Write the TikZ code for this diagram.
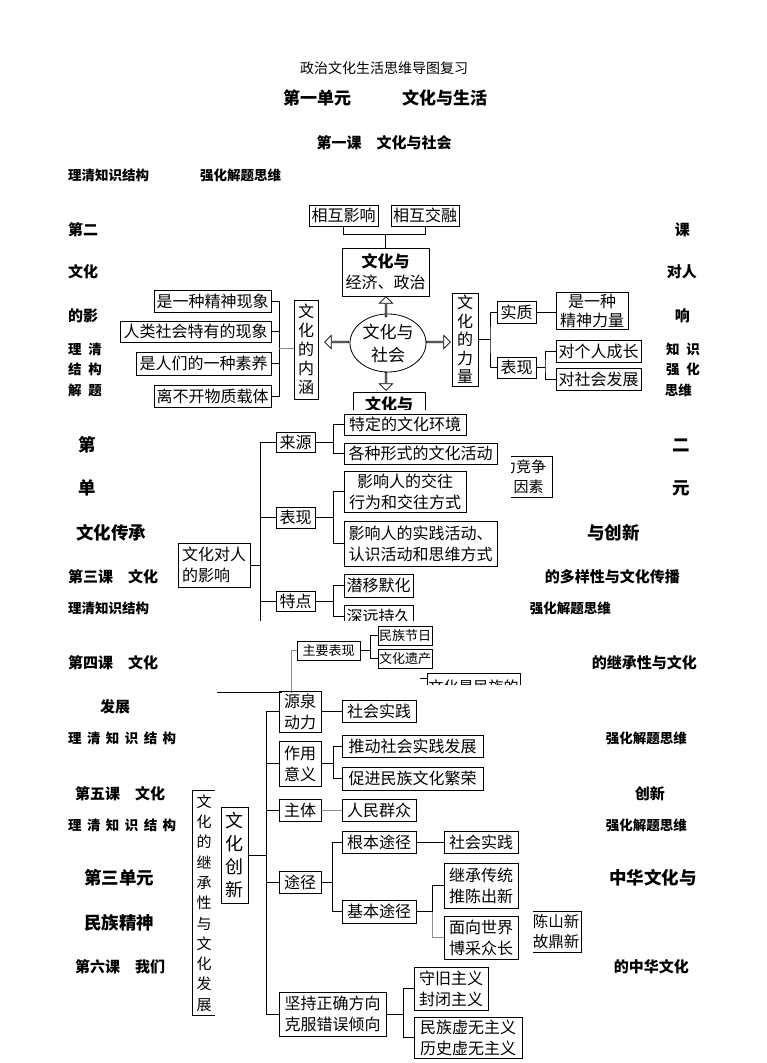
\documentclass[tikz,border=0pt]{standalone}
\usepackage{fontspec}
\setmainfont{Noto Sans CJK SC}
\usetikzlibrary{shapes.geometric,shapes.arrows}
\newcommand\MyBox[7][]{\node[box,minimum width={(#5-#3)*1pt},minimum height={(#6-#4)*1pt},#1] (#2) at ({(#3+#5)/2},{(#4+#6)/2}) {#7};}
\begin{document}
\begin{tikzpicture}[x=1pt,y=-1pt,
  box/.style={draw,line width=0.8pt,inner sep=0pt,align=center,font=\fontsize{16}{20}\selectfont},
  two/.style={font=\fontsize{16}{21}\selectfont},
  sbox/.style={font=\fontsize{13}{15}\selectfont},
  vtext/.style={font=\fontsize{16}{19}\selectfont},
  conn/.style={line width=0.8pt},
  gconn/.style={line width=0.8pt,black!45},
  harrow/.style={single arrow,draw,fill=white,line width=0.7pt,inner sep=0pt,minimum width=13pt,single arrow head extend=3pt},
  lab/.style={font=\bfseries\fontsize{15}{17}\selectfont,inner sep=0pt,anchor=west},
  labr/.style={lab,anchor=east},
  small/.style={font=\bfseries\fontsize{13.5}{15}\selectfont,inner sep=0pt,anchor=west},
  smallr/.style={small,anchor=east},
  heavy/.style={font=\bfseries\fontsize{17.5}{19}\selectfont,inner sep=0pt,anchor=west},
  heavyr/.style={heavy,anchor=east}]
\useasboundingbox (0,0) rectangle (767,1063);
\fill[white] (0,0) rectangle (767,1063);

% ---------- headings ----------
\node[font=\fontsize{14}{16}\selectfont,inner sep=0pt] (title) at (384,68) {政治文化生活思维导图复习};
\node[font=\bfseries\fontsize{17}{19}\selectfont,inner sep=0pt] (unit1) at (385,98) {第一单元\hspace{3em}文化与生活};
\node[font=\bfseries\fontsize{15}{17}\selectfont,inner sep=0pt] (les1) at (384,143) {第一课\quad 文化与社会};
\node[small] (l1a) at (68,175) {理清知识结构};
\node[small] (l1b) at (200,175) {强化解题思维};

\node[lab] (p1) at (68,230) {第二};   \node[labr] (q1) at (690,230) {课};
\node[lab] (p2) at (68,272) {文化};   \node[labr] (q2) at (697,272) {对人};
\node[lab] (p3) at (68,316) {的影};   \node[labr] (q3) at (690,316) {响};
\node[small] (p4) at (68,349) {理\hspace{.5em}清}; \node[smallr] (q4) at (700,349) {知\hspace{.5em}识};
\node[small] (p5) at (68,369) {结\hspace{.5em}构}; \node[smallr] (q5) at (700,369) {强\hspace{.5em}化};
\node[small] (p6) at (68,390) {解\hspace{.5em}题}; \node[smallr] (q6) at (692,390) {思维};

\node[heavy] (p7) at (78,445) {第};  \node[heavyr] (q7) at (690,445) {二};
\node[heavy] (p8) at (78,488) {单};  \node[heavyr] (q8) at (690,488) {元};
\node[heavy] (p9) at (76,533) {文化传承}; \node[heavyr] (q9) at (640,533) {与创新};
\node[lab] (p10) at (68,577) {第三课\quad 文化}; \node[labr] (q10) at (680,577) {的多样性与文化传播};
\node[small] (p11) at (68,608) {理清知识结构}; \node[smallr] (q11) at (611,608) {强化解题思维};

\node[lab] (p12) at (68,663) {第四课\quad 文化}; \node[labr] (q12) at (697,663) {的继承性与文化};
\node[lab] (p13) at (100,707) {发展};
\node[small] (p14) at (68,738) {理\hspace{.4em}清\hspace{.4em}知\hspace{.4em}识\hspace{.4em}结\hspace{.4em}构}; \node[smallr] (q14) at (687,738) {强化解题思维};

\node[lab] (p15) at (75,794) {第五课\quad 文化}; \node[labr] (q15) at (665,794) {创新};
\node[small] (p16) at (68,825) {理\hspace{.4em}清\hspace{.4em}知\hspace{.4em}识\hspace{.4em}结\hspace{.4em}构}; \node[smallr] (q16) at (687,825) {强化解题思维};
\node[heavy] (p17) at (84,878) {第三单元}; \node[heavyr] (q17) at (697,878) {中华文化与};
\node[heavy] (p18) at (84,923) {民族精神};
\node[lab] (p19) at (75,967) {第六课\quad 我们}; \node[labr] (q19) at (689,967) {的中华文化};

% ---------- diagram 1 ----------
\begin{scope}
\clip (0,190) rectangle (767,409);
\MyBox{hxyx}{309}{205}{378}{226}{相互影响}
\MyBox{hxjr}{391}{205}{459}{226}{相互交融}
\MyBox[two]{wjz}{342}{248}{429}{296}{\textbf{文化与}\\经济、政治}
\draw[conn] (hxyx.south) -- ++(0,8) -| (hxjr.south);
\draw[conn] (wjz.north) -- ++(0,-14);
\node[ellipse,draw,line width=0.8pt,minimum width=76pt,minimum height=58pt,inner sep=0pt,align=center,font=\fontsize{17}{23}\selectfont] (soc) at (388,343) {文化与\\社会};
\node[harrow,rotate=90,minimum height=20pt] (au) at (386,307) {};
\node[harrow,rotate=180,minimum height=24pt] (al) at (337,342) {};
\node[harrow,minimum height=24pt] (ar) at (438,342) {};
\node[harrow,rotate=-90,minimum height=18pt] (ad) at (386,381) {};
\MyBox[vtext]{nh}{294}{300}{318}{399}{文\\化\\的\\内\\涵}
\MyBox{n1}{154}{290}{271}{312}{是一种精神现象}
\MyBox{n2}{120}{321}{271}{342}{人类社会特有的现象}
\MyBox{n3}{136}{352}{271}{375}{是人们的一种素养}
\MyBox{n4}{154}{385}{271}{407}{离不开物质载体}
\coordinate (bL) at (279,348);
\draw[conn] (n1.east) -| (bL);
\draw[conn] (n4.east) -| (bL);
\draw[conn] (n2.east) -- (n2.east -| bL);
\draw[conn] (n3.east) -- (n3.east -| bL);
\draw[gconn] (bL) -- (bL -| nh.west);
\MyBox[font=\fontsize{16}{18.5}\selectfont]{ll}{452}{293}{478}{386}{文\\化\\的\\力\\量}
\MyBox{sz}{497}{301}{536}{323}{实质}
\MyBox{bx1}{497}{357}{536}{378}{表现}
\MyBox[font=\fontsize{16}{19}\selectfont]{jsl}{556}{292}{628}{329}{是一种\\精神力量}
\MyBox{gr}{556}{340}{641}{362}{对个人成长}
\MyBox{shf}{556}{368}{641}{390}{对社会发展}
\coordinate (bR) at (490,340);
\draw[conn] (ll.east) -- (ll.east -| bR);
\draw[conn] (sz.west) -| (bR) |- (bx1.west);
\draw[conn] (sz.east) -- (sz.east -| jsl.west);
\coordinate (bR2) at (545,366);
\draw[conn] (bx1.east) -- (bx1.east -| bR2);
\draw[conn] (gr.west) -| (bR2) |- (shf.west);
\MyBox{wy}{353}{392}{425}{440}{}
\node[font=\bfseries\fontsize{16}{18}\selectfont,inner sep=0pt] (wyt) at (389,404) {文化与};
\end{scope}

% partial box behind diagram 2
\begin{scope}
\clip (511,450) rectangle (600,505);
\MyBox[align=right,font=\fontsize{15}{20}\selectfont]{jz}{495}{456}{552}{497}{力竞争\\因素\,}
\end{scope}

% ---------- diagram 2 ----------
\begin{scope}
\clip (0,409) rectangle (767,620);
\MyBox[align=left,two]{root}{178}{543}{250}{587}{文化对人\\的影响}
\MyBox{src}{276}{432}{315}{452}{来源}
\MyBox{exp}{276}{507}{315}{528}{表现}
\MyBox{fea}{276}{591}{315}{611}{特点}
\MyBox{a1}{344}{414}{466}{435}{特定的文化环境}
\MyBox{a2}{344}{443}{497}{464}{各种形式的文化活动}
\MyBox[two]{b1}{344}{471}{466}{512}{影响人的交往\\行为和交往方式}
\MyBox[two]{b2}{344}{521}{497}{566}{影响人的实践活动、\\认识活动和思维方式}
\MyBox{c1}{344}{574}{413}{597}{潜移默化}
\MyBox{c2}{344}{605}{413}{628}{深远持久}
\coordinate (t2a) at (260,442);
\coordinate (t2b) at (260,640);
\draw[conn] (t2a) -- (t2b);
\draw[conn] (t2a) -- (src.west);
\draw[conn] (exp.west) -- (exp.west -| t2a);
\draw[conn] (fea.west) -- (fea.west -| t2a);
\draw[conn] (root.east) -- (root.east -| t2a);
\draw[conn] (src.east) -- ++(18,0) coordinate (k1);
\draw[conn] (a1.west) -| (k1) |- (a2.west);
\draw[conn] (exp.east) -- ++(18,0) coordinate (k2);
\draw[conn] (b1.west) -| (k2) |- (b2.west);
\draw[conn] (fea.east) -- ++(18,0) coordinate (k3);
\draw[conn] (c1.west) -| (k3) |- (c2.west);
\end{scope}

% ---------- fragment 3 ----------
\MyBox[sbox]{zybx}{297}{641}{360}{660}{主要表现}
\MyBox[sbox]{mzjr}{378}{626}{432}{645}{民族节日}
\MyBox[sbox]{whyc}{378}{649}{432}{668}{文化遗产}
\draw[conn] (zybx.east) -- ++(10,0) coordinate (k7);
\draw[conn] (mzjr.west) -| (k7) |- (whyc.west);
\coordinate (v3) at (291,693);
\draw[gconn] (zybx.west) -| (v3);
\coordinate (h1) at (217,692);
\coordinate (h2) at (282,692);
\draw[conn] (h1) -- (h2);
\begin{scope}
\clip (0,620) rectangle (767,684);
\MyBox[font=\fontsize{15}{17}\selectfont]{whmz}{427}{673}{520}{700}{文化是民族的}
\draw[conn] (whmz.north west) ++(0,6) -- ++(-7,0);
\end{scope}

% ---------- diagram 4 ----------
\node[inner sep=0pt,minimum width=22pt,minimum height=224pt,align=center,font=\fontsize{15}{20.3}\selectfont] (jcx) at (204,903) {文\\化\\的\\继\\承\\性\\与\\文\\化\\发\\展};
\draw[conn] (jcx.north east) -- (jcx.north west) -- (jcx.south west) -- (jcx.south east);
\MyBox[font=\fontsize{18}{23}\selectfont]{cx}{221}{807}{248}{903}{文\\化\\创\\新}
\MyBox[two]{sy}{279}{691}{321}{732}{源泉\\动力}
\MyBox{sj1}{342}{700}{416}{722}{社会实践}
\MyBox[two]{zy2}{279}{741}{321}{786}{作用\\意义}
\MyBox{t1}{342}{735}{483}{757}{推动社会实践发展}
\MyBox{t2}{342}{767}{483}{790}{促进民族文化繁荣}
\MyBox{zt}{279}{799}{321}{821}{主体}
\MyBox{rm}{342}{799}{416}{821}{人民群众}
\MyBox{tj}{279}{871}{321}{893}{途径}
\MyBox{gb}{342}{831}{416}{853}{根本途径}
\MyBox{sj2}{444}{831}{518}{853}{社会实践}
\MyBox{jb}{342}{900}{416}{923}{基本途径}
\MyBox[two]{jc}{444}{863}{518}{908}{继承传统\\推陈出新}
\MyBox[two]{mx}{444}{916}{518}{959}{面向世界\\博采众长}
\MyBox[two]{jx}{279}{992}{386}{1036}{坚持正确方向\\克服错误倾向}
\MyBox[two]{sjz}{414}{967}{488}{1010}{守旧主义\\封闭主义}
\MyBox[two]{mzx}{414}{1017}{522}{1058}{民族虚无主义\\历史虚无主义}
\coordinate (T1) at (266,711);
\coordinate (T2) at (266,1014);
\draw[conn] (T1) -- (T2);
\draw[conn] (sy.west) -- (sy.west -| T1);
\draw[conn] (zy2.west) -- (zy2.west -| T1);
\draw[conn] (zt.west) -- (zt.west -| T1);
\draw[conn] (tj.west) -- (tj.west -| T1);
\draw[conn] (jx.west) -- (jx.west -| T1);
\draw[conn] (cx.east) -- (cx.east -| T1);
\draw[conn] (sy.east) -- (sy.east -| sj1.west);
\draw[conn] (zy2.east) -- ++(12,0) coordinate (k4);
\draw[conn] (t1.west) -| (k4) |- (t2.west);
\draw[gconn] (zt.east) -- (rm.west);
\draw[conn] (tj.east) -- ++(11,0) coordinate (k5);
\draw[conn] (gb.west) -| (k5) |- (jb.west);
\draw[conn] (gb.east) -- (sj2.west);
\draw[conn] (jb.east) -- ++(16,0) coordinate (k6);
\draw[conn] (jc.west) -| (k6);
\draw[gconn] (k6) |- (mx.west);
\draw[conn] (jx.east) -- ++(17,0) coordinate (k8);
\draw[conn] (sjz.west) -| (k8) |- (mzx.west);
\begin{scope}
\clip (533,900) rectangle (600,960);
\MyBox[font=\fontsize{15.5}{20}\selectfont]{csx}{531}{911}{581}{952}{陈山新\\故鼎新}
\end{scope}
\end{tikzpicture}
\end{document}
